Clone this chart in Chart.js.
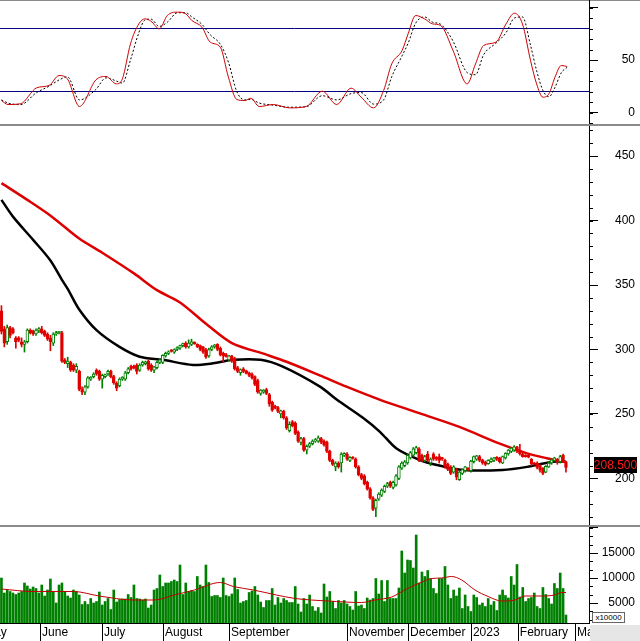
<!DOCTYPE html>
<html><head><meta charset="utf-8">
<script src="https://cdn.jsdelivr.net/npm/chart.js@4.4.1/dist/chart.umd.min.js"></script>
<style>
html,body{margin:0;padding:0;background:#fff;width:640px;height:641px;overflow:hidden;position:relative}
canvas{position:absolute;left:0}
.sep{position:absolute;left:0;width:640px;height:2px;background:#8a8a8a}
#corner{position:absolute;left:590px;top:625px;width:50px;height:16px;background:#e6e6e6}
#mult{position:absolute;left:592px;top:612px;width:31px;height:9px;border:1px solid #666;background:#fff;font:8px 'Liberation Sans',Arial,sans-serif;line-height:9px;color:#000;text-align:center}
</style></head><body>
<div class="sep" style="top:0;height:1px"></div>
<canvas id="c1" width="640" height="124" style="top:0"></canvas>
<div class="sep" style="top:124px"></div>
<canvas id="c2" width="640" height="399" style="top:126px"></canvas>
<div class="sep" style="top:525px"></div>
<canvas id="c3" width="640" height="114" style="top:527px"></canvas>
<div id="mult">x10000</div>
<div id="corner"></div>
<script>
// ---------------- data ----------------
const opens = [330,316,306,317,316,309,309,306,304,306,
315,314,312,315,316,314,312,309,305,312,
313,313,292,289,290,288,284,283,269,267,
271,277,279,284,283,277,279,281,283,279,
274,272,277,277,282,287,287,288,284,288,
289,291,288,284,286,290,290,295,297,299,
298,300,301,303,305,302,304,305.5,304,303,
302,300,295,300,302,304,301,297,296,292,
295,293,286,282,285,283.5,282,281,279,276,
266,267,269,265,259,256,255,250,252,247,
237,244,243,236,228,231,222,225,227,229,
229,231,229,228,221,214,209,212,212,218,
219,214,216,215,209,203,202,197,192,185,
177,184,187,190,194,197,193,195,200,208,
210,212,216,218,220,223,218,214,219,212,
219,216.5,217,216,214,211,208,205,207,199,
204,206,208,206,213,215,217,214.5,213,211.5,
213,214,216.5,216,212,216,219,221,222,224.5,
222,219,218,218,215,212,212,210,208,205,
209,212,214,215,213,218,213];
const highs = [334,318,319,318,317,310,310,309,307,316,
316,315,316,317,318,315,313,311,313,314,
314,314,293,294,291,289,289,284,271,272,
279,279,282,285,284,281,281,284,284,280,
275,278,279,283,286,288,288,289,289,291,
291,292,289,287,291,293,296,298,299,300,
300.5,302,303.5,305,306,307.5,308,306,304.5,303.5,
302.5,301,301,303,304,304.5,302,298,297,295.5,
295.5,294,287,285,286,284,282.5,282,279.5,277,
269,269,270,266,260,257,256,253,253,248,
244,245,244,237,232,232,226,228,230,231,
233,232,230,229,222,215,213,213,220,220,
220,217,217,216,210,204,203,198,193,186,
184,189,192,195,197,198,198,203,210,213,
214,219,221,224,225,224,219,218,221,216,
220,217,219,216.5,215,212,210,210,208,206,
207.5,209.5,208.5,214,217.5,218,218,215,213.5,214.5,
216,216.5,217,216.5,217.5,220,222.5,224,225.5,225,
226.5,220,218.5,218.5,215.5,212.5,213,210.5,208.5,210,
213,215.5,216.5,215.5,218,219,213.5];
const lows = [312,302,304,309,312,301,306,302,298,305,
312,311,311,313,312,310,307,299,303,311,
312,290,289,286,283,283,282,268,265,265,
270,276,278,280,276,270,278,280,278,273,
268,271,276,276,281,284,285,281,283,287,
288,284,283,282,285,289,289,294,296,298,
297,299,300,302,301,301,303,304,301.5,299,
297,293,294,299,301,299,295,290,294,291,
290,284,282,280,282,281,279,277,272,266,
264.5,266,265,256,252,254,251,247,246,238,
236,240,234,228,226,221,219,224,226,228,
228,227,225,220,213,210,206,208,205,217,
214,213,215,208,202,199,195,191,184,175,
170.5,183,186,189,193,193,192,194,199,207,
209,211,215,217,219,213,213,213,213,210,
214,214,212,214,208,206,203,204,199,198.5,
203,205,206,205,212,214,213,211,210,211,
212.5,213,214,212,211.5,215,218,220,221,220,
218,216.5,216.5,216,210,210.5,207.5,205,203,204.5,
208.5,211,213.5,211,212,213.5,205];
const closes = [314,305,317,311,313,306,307,304,306,315,
313,312,315,316,313,311,308,306,312,313,
313.5,291,290,291,284,284,287,269,267,271,
278,278.5,281,281,277,280,280.5,283,279,274,
270,277,278.5,282,285,285,286,283,288,290,
290.5,285,284,286.5,290,292,295.5,297,298,298.5,
300,301.5,303,304.5,302,305,306,304.5,302,300,
298,294,300,302,303.5,300,296,295,294.5,295,
291,285,283,284.5,283,281.5,280,278,273,267,
268.5,268.5,266,258,253,254.5,252,252.5,247,239,
242,241,235,229,231,222,225,227,229,230,
231.5,228,226,221,214,211,212,209,219,219.5,
215,216.5,215.5,209,203,200,196,192,185,176,
183,188,191,194,196,194,197,202,209,212,
213,218,220,223,224,214,214,217,214,215,
215,215,214,215,209.5,207,204,209,201,205,
207,209,206.5,213.5,217,217.5,214,212,211,214,
215,216,215,213,217,219.5,222,223.5,224.5,221,
219,217,217,216.5,211.5,211,208.5,206.5,204,209.5,
212,214.5,216,213,217,214,208.5];
const volumes = [10000,7000,7600,7300,7000,6700,7000,7300,9000,8400,
7800,8200,7900,7000,8600,6400,7600,9800,7300,5000,
8600,9000,7300,6400,6000,7600,7300,6600,4700,5300,
4700,5900,5000,5300,7200,4600,5300,5900,3700,7600,
5200,5700,5800,5800,6700,6100,8600,5900,5800,5600,
5800,4000,4600,7600,7900,10600,8300,9000,9000,9300,
9600,9300,12600,6700,9000,7300,7500,7300,10300,8600,
8300,12600,9100,6300,6500,6500,6100,10000,6500,6300,
6800,10000,7700,5000,5300,5500,7100,7400,8300,6600,
5200,4100,5500,5500,7900,4600,6100,5000,5900,5500,
5100,5100,8300,4800,3200,5900,4800,6600,4300,3400,
4100,3000,8800,6200,7300,5300,3900,5500,5000,5500,
4800,4300,3600,7300,4400,4600,3900,6000,5600,5900,
9900,6800,9500,5300,9500,5900,5900,5900,8000,15400,
11000,13600,13500,12000,18600,9000,11200,10300,11500,9900,
7900,6900,9900,9900,12300,8600,5900,7600,6400,8000,
3900,6600,4300,3300,6600,6100,4600,5000,4300,5900,
4600,5300,3500,6600,7600,6500,6000,10300,8600,12700,
6200,8100,5300,5900,6100,7000,4300,3900,8100,6700,
5900,4800,8900,7900,11000,7900,2600];

// moving averages (index of trading day, value)
const maShortIdx = [0,4,11,17,21,23,27,33,41,48,56,66.5,73.5,80.4,90,97.7,110.6,116.5,125.5,131.5,137.3,145.3,151.2,160.2,174,182.5,191.5,196];
const maShortVal = [416,403,385,369,354,347,331,315,302,294.4,292,288,289.3,292,292,286.7,271.2,261,247,236,223,214.3,210.5,206.6,206.6,209,213,213];
const maLongIdx = [0,9,17.5,27,35,46,54,62,71,80,92,99,110.5,120,131.5,145.3,159,173,182.5,189.4,196];
const maLongVal = [429,416,403,386,375,359,346,336.5,320,305,296,290.5,280,271,261,250.5,240,227,219.5,215.7,212.5];
const volMaIdx = [0,11,25,34,46,53,60,67,76,80.5,87.5,95.5,102,113.5,125,129.7,135.5,140,146,149.4,152.8,156.3,159.8,164.4,169,173.7,178.3,181.8,187.5,192,194.5,196];
const volMaVal = [7800,7300,7300,6400,5600,5600,6600,7600,9100,8300,7600,6600,5900,5400,5100,5600,6200,7600,9200,9900,10000,10300,9600,7600,6300,5400,5600,6400,6400,6600,7100,7100];

// stochastic oscillator (%K solid red, %D dashed black)
const stochIdx = [0,2.3,6.6,12.2,16.5,20,22.9,27.1,32.8,36.3,39.9,42,44.8,47.7,49.8,51.9,54.8,57.6,61.1,64,66.1,69.6,72.5,76,78.8,81.7,84.5,86.6,89.5,94.4,100,105.8,111.4,116.4,121.4,124.9,129.2,132.7,135.5,139.1,141.2,143.8,146.9,149.7,152.5,156.8,161.7,164.6,167.4,171.7,175.2,178.1,180.9,183.7,185.8,188,190.1,192.2,194.4,196.4];
const stochK = [11.4,7.6,8.3,23.5,25.7,35.2,32,5.7,31.1,34.3,27.3,32.1,65.4,84.4,89.2,87,79.7,92.4,95.6,94,87.6,81.3,67,62.2,33.7,12.4,11.4,13.6,5.7,7.6,4.4,5.7,20.3,7.6,23.2,14.6,4.4,21,46.3,59,75,92.4,89.2,84.4,82.9,59,27.3,46.3,63.8,67,84.4,94.6,84.4,49.5,27.3,14.6,17.8,33.7,44.8,43.8];
const stochD = [12,9,7.5,19,25,31,34,12,22,33,30,28,50,76,88,89,82,86,95,95,91,84,74,65,48,20,12,12.5,9,7,5,5.5,16,12,18,19,8,12,34,54,66,85,91,86,84,68,38,36,55,66,76,90,91,64,40,21,15,24,38,43];
const stochLevels = [80, 20];

const priceTicks = [200,250,300,350,400,450];
const stochTicks = [0,50,100];
const volTicks = [5000,10000,15000,20000];
const monthPos = [-6.7,13.4,34.9,56.1,79,120,141.2,163,179.3,199.1];
const monthNames = ['May','June','July','August','September','November','December','2023','February','March'];

// ---------------- helpers ----------------
const FONT = {family:"'Liberation Sans', Arial, sans-serif", size:12};
const X_MIN = -0.5, X_MAX = 204;
const idx = closes.map((_, i) => i);
const up = i => closes[i] >= opens[i];
const GREEN = '#008000', RED = '#e00000';
Chart.defaults.font.family = FONT.family;

const minorTicks = {
  id: 'minorTicks',
  afterDraw(chart, args, o) {
    const s = chart.scales.y, ctx = chart.ctx;
    ctx.save(); ctx.strokeStyle = '#000'; ctx.lineWidth = 1; ctx.beginPath();
    for (let k = 0; k <= o.count; k++) {
      const v = o.from + k * o.step;
      const y = Math.round(s.getPixelForValue(v)) + 0.5;
      if (y < s.top || y > s.bottom) continue;
      ctx.moveTo(s.left, y); ctx.lineTo(s.left + 4, y);
    }
    ctx.stroke(); ctx.restore();
  }
};

function yAxis(min, max, ticksList, labelFn, padding) {
  return {
    position: 'right', min, max,
    afterBuildTicks: s => { s.ticks = ticksList.map(v => ({value: v})); },
    afterFit: s => { s.width = 46; s.paddingTop = 0; s.paddingBottom = 0; },
    ticks: {font: FONT, color: '#000', crossAlign: 'far', padding, callback: labelFn, autoSkip: false},
    grid: {drawOnChartArea: false, drawTicks: true, tickLength: 9, color: '#000'},
    border: {display: true, color: '#000', width: 1}
  };
}
const baseOpts = {
  responsive: false, animation: false, events: [],
  layout: {padding: {left: 0, top: 0, bottom: 0, right: 5}},
  plugins: {legend: {display: false}, tooltip: {enabled: false}}
};
const pts = (xs, ys) => xs.map((x, i) => ({x, y: ys[i]}));

// ---------------- stochastic panel ----------------
new Chart(document.getElementById('c1'), {
  type: 'line',
  data: {datasets: [
    {data: pts(stochIdx, stochK), borderColor: '#cc0000', borderWidth: 1, pointRadius: 0, cubicInterpolationMode: 'monotone', order: 0},
    {data: pts(stochIdx, stochD), borderColor: '#000', borderWidth: 1, borderDash: [2, 2], pointRadius: 0, cubicInterpolationMode: 'monotone', order: 1},
    ...stochLevels.map(l => ({data: [{x: X_MIN, y: l}, {x: X_MAX, y: l}], borderColor: '#000080', borderWidth: 1, pointRadius: 0, order: 2}))
  ]},
  options: {...baseOpts,
    plugins: {...baseOpts.plugins, minorTicks: {from: -10, step: 10, count: 11}},
    scales: {
      x: {type: 'linear', min: X_MIN, max: X_MAX, display: false},
      y: yAxis(-10.95, 107.15, stochTicks, v => v === 100 ? '' : String(v), 3)
    }},
  plugins: [minorTicks]
});

// ---------------- price panel ----------------
const priceTag = {
  id: 'priceTag',
  afterDraw(chart) {
    const ctx = chart.ctx, s = chart.scales.y;
    const last = closes[closes.length - 1];
    const y = Math.round(s.getPixelForValue(last));
    ctx.save();
    ctx.fillStyle = '#000'; ctx.fillRect(594, y - 11, 43, 16);
    ctx.fillStyle = '#ff1a1a'; ctx.font = "12px 'Liberation Sans', Arial, sans-serif";
    ctx.textAlign = 'center'; ctx.textBaseline = 'middle';
    ctx.fillText(last.toFixed(3), 615.5, y - 2.5);
    ctx.restore();
  }
};
new Chart(document.getElementById('c2'), {
  type: 'bar',
  data: {datasets: [
    {type: 'bar', data: idx.map(i => ({x: i, y: [opens[i], closes[i]]})),
     backgroundColor: idx.map(i => up(i) ? '#fff' : RED), borderColor: idx.map(i => up(i) ? GREEN : RED),
     borderWidth: 1, borderSkipped: false, grouped: false, categoryPercentage: 1, barPercentage: 1,
     maxBarThickness: 3, minBarLength: 1.5, order: 0},
    {type: 'bar', data: idx.map(i => ({x: i, y: [lows[i], highs[i]]})),
     backgroundColor: idx.map(i => up(i) ? GREEN : RED), borderWidth: 0, grouped: false,
     categoryPercentage: 1, barPercentage: 1, maxBarThickness: 1, order: 1},
    {type: 'line', data: pts(maLongIdx, maLongVal), borderColor: '#dd0000', borderWidth: 2.5, pointRadius: 0, tension: 0.3, order: 2},
    {type: 'line', data: pts(maShortIdx, maShortVal), borderColor: '#000', borderWidth: 2.5, pointRadius: 0, tension: 0.3, order: 3}
  ]},
  options: {...baseOpts,
    plugins: {...baseOpts.plugins, minorTicks: {from: 170, step: 10, count: 30}},
    scales: {
      x: {type: 'linear', min: X_MIN, max: X_MAX, display: false, offset: false},
      y: yAxis(163.95, 473.26, priceTicks, v => String(v), 3)
    }},
  plugins: [minorTicks, priceTag]
});

// ---------------- volume panel ----------------
const monthSep = {
  id: 'monthSep',
  afterDraw(chart) {
    const ctx = chart.ctx, xs = chart.scales.x, a = chart.chartArea;
    ctx.save(); ctx.strokeStyle = '#000'; ctx.lineWidth = 1; ctx.beginPath();
    monthPos.forEach(v => {
      const x = Math.round(xs.getPixelForValue(v)) + 0.5;
      if (x < 0 || x > a.right) return;
      ctx.moveTo(x, a.bottom); ctx.lineTo(x, chart.height);
    });
    ctx.stroke(); ctx.restore();
  }
};
new Chart(document.getElementById('c3'), {
  type: 'bar',
  data: {datasets: [
    {type: 'line', data: pts(volMaIdx, volMaVal), borderColor: '#c00000', borderWidth: 1, pointRadius: 0, cubicInterpolationMode: 'monotone', order: 0},
    {type: 'bar', data: idx.map(i => ({x: i, y: volumes[i]})), backgroundColor: GREEN, borderWidth: 0, barThickness: 2, order: 1}
  ]},
  options: {...baseOpts,
    plugins: {...baseOpts.plugins, minorTicks: {from: 0, step: 5000 / 3, count: 12}},
    scales: {
      x: {type: 'linear', min: X_MIN, max: X_MAX, position: 'bottom', offset: false,
          afterBuildTicks: s => { s.ticks = monthPos.map(v => ({value: v})); },
          afterFit: s => { s.height = 18; s.paddingLeft = 0; s.paddingRight = 0; },
          ticks: {autoSkip: false, maxRotation: 0, minRotation: 0, align: 'start', padding: 2, labelOffset: 2,
                  font: FONT, color: '#000', callback: (v, i) => monthNames[i]},
          grid: {drawOnChartArea: false, drawTicks: false},
          border: {display: true, color: '#000'}},
      y: yAxis(1000, 20200, volTicks, v => v === 20000 ? '' : String(v), 3)
    }},
  plugins: [minorTicks, monthSep]
});
</script>
</body></html>
